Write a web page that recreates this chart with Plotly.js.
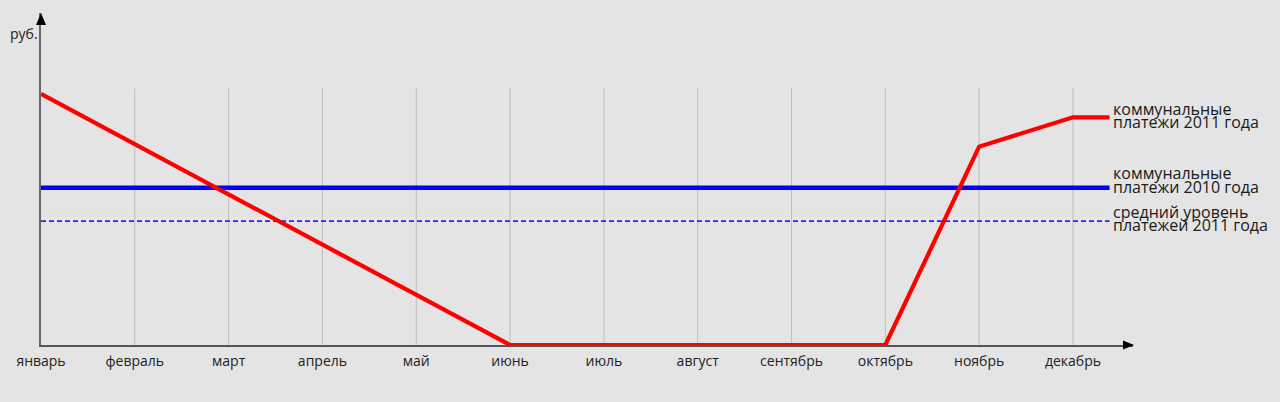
<!DOCTYPE html>
<html>
<head>
<meta charset="utf-8">
<script src="https://cdn.plot.ly/plotly-3.0.1.min.js"></script>
<style>
  html, body { margin: 0; padding: 0; background: #e4e4e4; }
  #chart { width: 1280px; height: 402px; }
</style>
</head>
<body>
<div id="chart"></div>
<script>
// ---- data ----
const months = ['январь','февраль','март','апрель','май','июнь','июль','август','сентябрь','октябрь','ноябрь','декабрь'];
const payments2011 = [97.7, 78.1, 58.6, 39.1, 19.5, 0, 0, 0, 0, 0, 77.2, 88.6];
const payments2010 = 61.2;
const average2011 = 48.2;
const gridTop = 100;
const labels2011 = ['коммунальные', 'платежи 2011 года'];
const labels2010 = ['коммунальные', 'платежи 2010 года'];
const labelsAvg = ['средний уровень', 'платежей 2011 года'];
const yUnit = 'руб.';

// ---- layout constants ----
const lineEnd = 11.39;
const xIdx = months.map((m, i) => i);
const font = '"Open Sans", "Noto Sans", sans-serif';

const redX = xIdx.concat([lineEnd]);
const redY = payments2011.concat([payments2011[payments2011.length - 1]]);

const traces = [
  { x: [0, lineEnd], y: [average2011, average2011], mode: 'lines',
    line: { color: '#2424ff', width: 1.6, dash: '5px,3px' }, hoverinfo: 'skip' },
  { x: [0, lineEnd], y: [payments2010, payments2010], mode: 'lines',
    line: { color: '#0000ff', width: 4.5 }, hoverinfo: 'skip' },
  { x: redX, y: redY, mode: 'lines',
    line: { color: '#ff0000', width: 4.2 }, hoverinfo: 'skip' }
];

const shapes = [];
xIdx.slice(1).forEach(i => {
  shapes.push({ type: 'line', xref: 'x', yref: 'y', x0: i, x1: i, y0: 0, y1: gridTop,
    line: { color: '#bdbdbd', width: 1 }, layer: 'below' });
});
// axis arrowheads
shapes.push({ type: 'path', xref: 'paper', yref: 'paper', xsizemode: 'pixel', ysizemode: 'pixel',
  xanchor: 1, yanchor: 0, path: 'M1,0 L-10,4.5 L-10,-4.5 Z',
  fillcolor: '#000', line: { width: 0 } });
shapes.push({ type: 'path', xref: 'paper', yref: 'paper', xsizemode: 'pixel', ysizemode: 'pixel',
  xanchor: 0, yanchor: 1, path: 'M0,0 L-5,-12 L5,-12 Z',
  fillcolor: '#000', line: { width: 0 } });

function lineLabels(texts, yVal, shifts) {
  return texts.map((t, k) => ({
    text: t, xref: 'x', yref: 'y', x: lineEnd, y: yVal, xanchor: 'left', yanchor: 'middle',
    xshift: 1, yshift: shifts[k], showarrow: false,
    font: { family: font, size: 16, color: '#1a1a1a' }
  }));
}

const annotations = []
  .concat(lineLabels(labels2011, payments2011[payments2011.length - 1], [7.9, -5.1]))
  .concat(lineLabels(labels2010, payments2010, [14.3, 0.3]))
  .concat(lineLabels(labelsAvg, average2011, [9.6, -3.4]))
  .concat([{ text: yUnit, xref: 'paper', yref: 'paper', x: 0, y: 1, xanchor: 'right', yanchor: 'middle',
    xshift: -1, yshift: -20, showarrow: false, font: { family: font, size: 14, color: '#1a1a1a' } }]);

const layout = {
  width: 1280, height: 402,
  margin: { l: 41, r: 147, t: 13, b: 57, pad: 0 },
  paper_bgcolor: '#e4e4e4', plot_bgcolor: '#e4e4e4',
  showlegend: false,
  xaxis: {
    range: [0, 11.64], tickvals: xIdx, ticktext: months, ticks: '', ticklabelstandoff: 2,
    showgrid: false, zeroline: false, showline: true, linecolor: '#555', linewidth: 2,
    tickfont: { family: font, size: 14, color: '#222' }, fixedrange: true
  },
  yaxis: {
    range: [0, 129.2], showticklabels: false, ticks: '',
    showgrid: false, zeroline: false, showline: true, linecolor: '#666', linewidth: 2, fixedrange: true
  },
  shapes: shapes,
  annotations: annotations
};

Plotly.newPlot('chart', traces, layout, { displayModeBar: false, staticPlot: true });
</script>
</body>
</html>
